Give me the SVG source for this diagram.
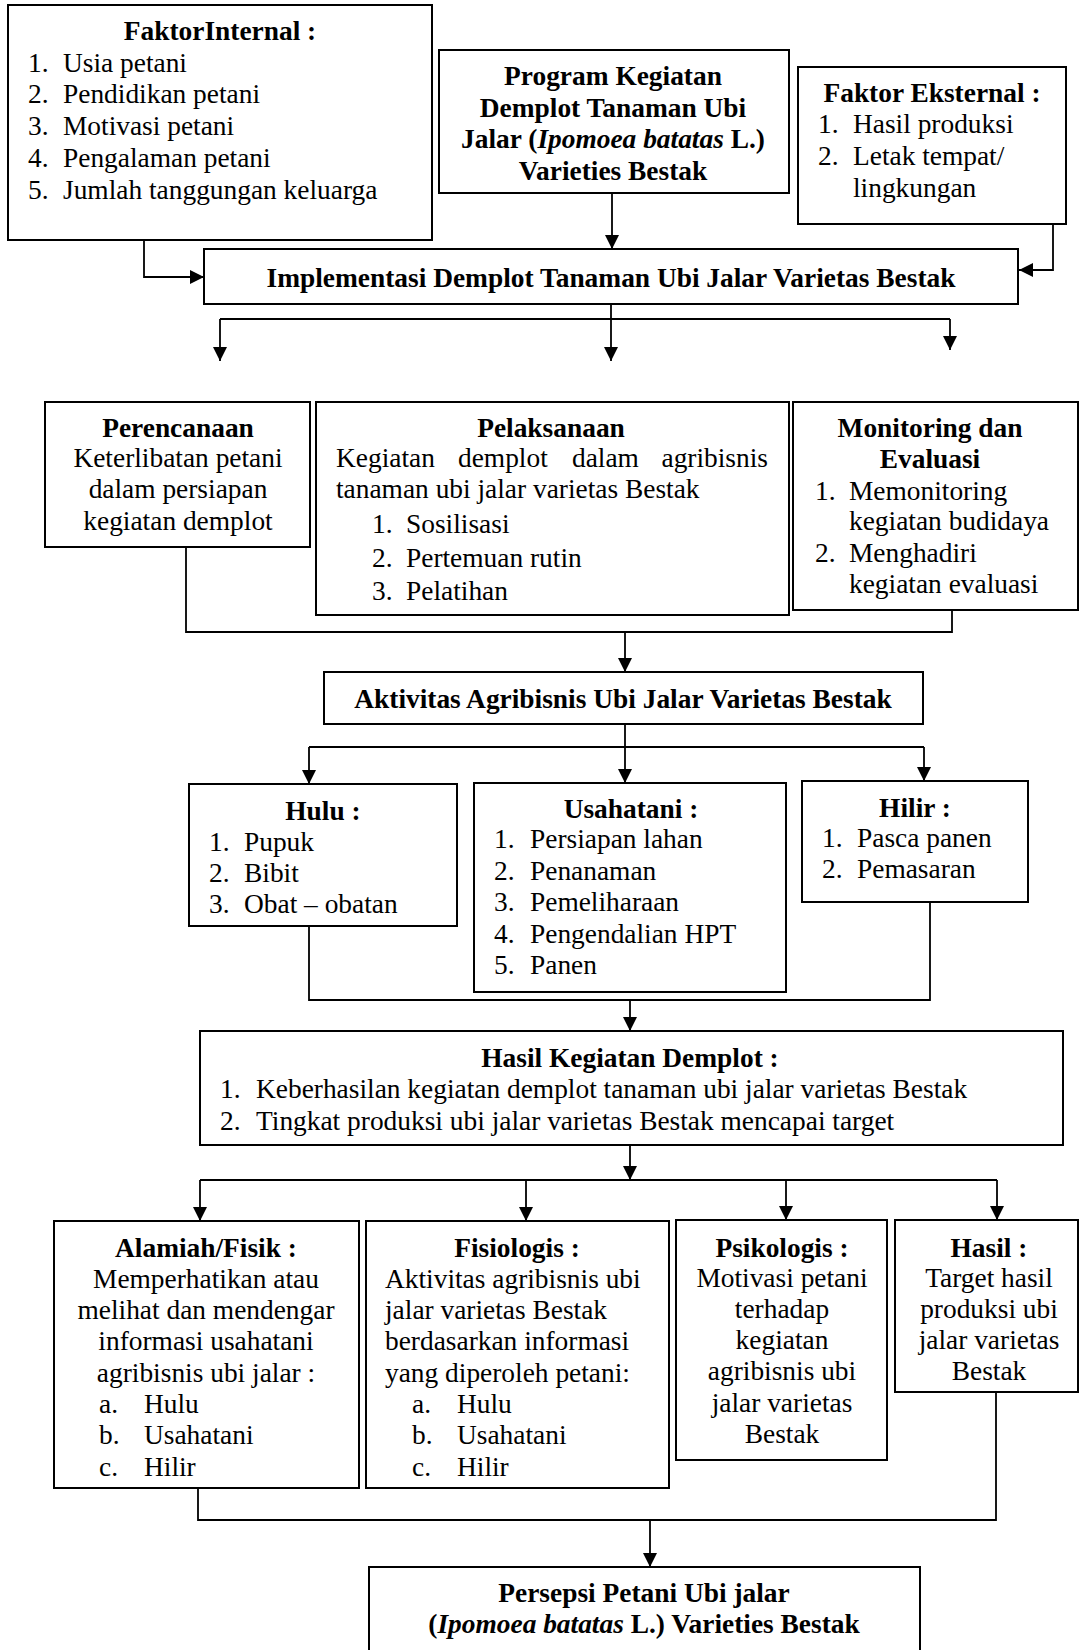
<svg xmlns="http://www.w3.org/2000/svg" width="1079" height="1650" viewBox="0 0 1079 1650">
<style>
text{font-family:"Liberation Serif","Times New Roman",serif;font-size:27.4px;fill:#000}
.b{font-weight:bold}
.c{text-anchor:middle}
.e{text-anchor:end}
.i{font-style:italic}
rect{fill:#fff;stroke:#000;stroke-width:2}
.ln{fill:none;stroke:#000;stroke-width:1.8}
</style>
<defs>
<marker id="ah" markerUnits="userSpaceOnUse" markerWidth="14" markerHeight="14" viewBox="0 0 14 14" refX="14" refY="7" orient="auto">
<path d="M0,0 L14,7 L0,14 z" fill="#000"/>
</marker>
</defs>
<rect x="0" y="0" width="1079" height="1650" style="stroke:none;fill:#fff"/>

<g id="connectors">
<path class="ln" d="M144,240 V277 H204" marker-end="url(#ah)"/>
<path class="ln" d="M612,193 V249" marker-end="url(#ah)"/>
<path class="ln" d="M1053,224 V270 H1019" marker-end="url(#ah)"/>
<path class="ln" d="M611,304 V361" marker-end="url(#ah)"/>
<path class="ln" d="M220,319 H950"/>
<path class="ln" d="M220,319 V361" marker-end="url(#ah)"/>
<path class="ln" d="M950,319 V350" marker-end="url(#ah)"/>
<path class="ln" d="M186,547 V632 H952 V610"/>
<path class="ln" d="M625,632 V672" marker-end="url(#ah)"/>
<path class="ln" d="M625,724 V783" marker-end="url(#ah)"/>
<path class="ln" d="M309,747 H924"/>
<path class="ln" d="M309,747 V784" marker-end="url(#ah)"/>
<path class="ln" d="M924,747 V781" marker-end="url(#ah)"/>
<path class="ln" d="M309,926 V1000 H930 V902"/>
<path class="ln" d="M630,1000 V1031" marker-end="url(#ah)"/>
<path class="ln" d="M630,1145 V1180" marker-end="url(#ah)"/>
<path class="ln" d="M200,1180 H997"/>
<path class="ln" d="M200,1180 V1221" marker-end="url(#ah)"/>
<path class="ln" d="M526,1180 V1221" marker-end="url(#ah)"/>
<path class="ln" d="M786,1180 V1220" marker-end="url(#ah)"/>
<path class="ln" d="M997,1180 V1220" marker-end="url(#ah)"/>
<path class="ln" d="M198,1488 V1520 H996 V1392"/>
<path class="ln" d="M650,1520 V1567" marker-end="url(#ah)"/>
</g>

<g id="faktor-internal">
<rect x="8" y="5" width="424" height="235"/>
<text class="b c" x="220" y="40">FaktorInternal :</text>
<text x="28" y="72">1.</text><text x="63" y="72">Usia petani</text>
<text x="28" y="103">2.</text><text x="63" y="103">Pendidikan petani</text>
<text x="28" y="135">3.</text><text x="63" y="135">Motivasi petani</text>
<text x="28" y="167">4.</text><text x="63" y="167">Pengalaman petani</text>
<text x="28" y="199">5.</text><text x="63" y="199">Jumlah tanggungan keluarga</text>
</g>

<g id="program">
<rect x="439" y="50" width="350" height="143"/>
<text class="b c" x="613" y="85">Program Kegiatan</text>
<text class="b c" x="613" y="117">Demplot Tanaman Ubi</text>
<text class="b c" x="613" y="148">Jalar (<tspan class="i">Ipomoea batatas</tspan> L.)</text>
<text class="b c" x="613" y="180">Varieties Bestak</text>
</g>

<g id="faktor-eksternal">
<rect x="798" y="67" width="268" height="157"/>
<text class="b c" x="932" y="102">Faktor Eksternal :</text>
<text x="818" y="133">1.</text><text x="853" y="133">Hasil produksi</text>
<text x="818" y="165">2.</text><text x="853" y="165">Letak tempat/</text>
<text x="853" y="197">lingkungan</text>
</g>

<g id="implementasi">
<rect x="204" y="249" width="814" height="55"/>
<text class="b c" x="611" y="287">Implementasi Demplot Tanaman Ubi Jalar Varietas Bestak</text>
</g>

<g id="perencanaan">
<rect x="45" y="402" width="265" height="145"/>
<text class="b c" x="178" y="437">Perencanaan</text>
<text class="c" x="178" y="467">Keterlibatan petani</text>
<text class="c" x="178" y="498">dalam persiapan</text>
<text class="c" x="178" y="530">kegiatan demplot</text>
</g>

<g id="pelaksanaan">
<rect x="316" y="402" width="473" height="213"/>
<text class="b c" x="551" y="437">Pelaksanaan</text>
<text x="336" y="467">Kegiatan</text>
<text x="458" y="467">demplot</text>
<text x="572" y="467">dalam</text>
<text class="e" x="768" y="467">agribisnis</text>
<text x="336" y="498">tanaman ubi jalar varietas Bestak</text>
<text x="372" y="533">1.</text><text x="406" y="533">Sosilisasi</text>
<text x="372" y="567">2.</text><text x="406" y="567">Pertemuan rutin</text>
<text x="372" y="600">3.</text><text x="406" y="600">Pelatihan</text>
</g>

<g id="monitoring">
<rect x="793" y="402" width="285" height="208"/>
<text class="b c" x="930" y="437">Monitoring dan</text>
<text class="b c" x="930" y="468">Evaluasi</text>
<text x="815" y="500">1.</text><text x="849" y="500">Memonitoring</text>
<text x="849" y="530">kegiatan budidaya</text>
<text x="815" y="562">2.</text><text x="849" y="562">Menghadiri</text>
<text x="849" y="593">kegiatan evaluasi</text>
</g>

<g id="aktivitas">
<rect x="324" y="672" width="599" height="52"/>
<text class="b c" x="623" y="708">Aktivitas Agribisnis Ubi Jalar Varietas Bestak</text>
</g>

<g id="hulu">
<rect x="189" y="784" width="268" height="142"/>
<text class="b c" x="323" y="820">Hulu :</text>
<text x="209" y="851">1.</text><text x="244" y="851">Pupuk</text>
<text x="209" y="882">2.</text><text x="244" y="882">Bibit</text>
<text x="209" y="913">3.</text><text x="244" y="913">Obat – obatan</text>
</g>

<g id="usahatani">
<rect x="474" y="783" width="312" height="209"/>
<text class="b c" x="631" y="818">Usahatani :</text>
<text x="494" y="848">1.</text><text x="530" y="848">Persiapan lahan</text>
<text x="494" y="880">2.</text><text x="530" y="880">Penanaman</text>
<text x="494" y="911">3.</text><text x="530" y="911">Pemeliharaan</text>
<text x="494" y="943">4.</text><text x="530" y="943">Pengendalian HPT</text>
<text x="494" y="974">5.</text><text x="530" y="974">Panen</text>
</g>

<g id="hilir">
<rect x="802" y="781" width="226" height="121"/>
<text class="b c" x="915" y="817">Hilir :</text>
<text x="822" y="847">1.</text><text x="857" y="847">Pasca panen</text>
<text x="822" y="878">2.</text><text x="857" y="878">Pemasaran</text>
</g>

<g id="hasil-kegiatan">
<rect x="200" y="1031" width="863" height="114"/>
<text class="b c" x="630" y="1067">Hasil Kegiatan Demplot :</text>
<text x="220" y="1098">1.</text><text x="256" y="1098">Keberhasilan kegiatan demplot tanaman ubi jalar varietas Bestak</text>
<text x="220" y="1130">2.</text><text x="256" y="1130">Tingkat produksi ubi jalar varietas Bestak mencapai target</text>
</g>

<g id="alamiah">
<rect x="54" y="1221" width="305" height="267"/>
<text class="b c" x="206" y="1257">Alamiah/Fisik :</text>
<text class="c" x="206" y="1288">Memperhatikan atau</text>
<text class="c" x="206" y="1319">melihat dan mendengar</text>
<text class="c" x="206" y="1350">informasi usahatani</text>
<text class="c" x="206" y="1382">agribisnis ubi jalar :</text>
<text x="99" y="1413">a.</text><text x="144" y="1413">Hulu</text>
<text x="99" y="1444">b.</text><text x="144" y="1444">Usahatani</text>
<text x="99" y="1476">c.</text><text x="144" y="1476">Hilir</text>
</g>

<g id="fisiologis">
<rect x="366" y="1221" width="303" height="267"/>
<text class="b c" x="517" y="1257">Fisiologis :</text>
<text x="385" y="1288">Aktivitas agribisnis ubi</text>
<text x="385" y="1319">jalar varietas Bestak</text>
<text x="385" y="1350">berdasarkan informasi</text>
<text x="385" y="1382">yang diperoleh petani:</text>
<text x="412" y="1413">a.</text><text x="457" y="1413">Hulu</text>
<text x="412" y="1444">b.</text><text x="457" y="1444">Usahatani</text>
<text x="412" y="1476">c.</text><text x="457" y="1476">Hilir</text>
</g>

<g id="psikologis">
<rect x="676" y="1220" width="211" height="240"/>
<text class="b c" x="782" y="1257">Psikologis :</text>
<text class="c" x="782" y="1287">Motivasi petani</text>
<text class="c" x="782" y="1318">terhadap</text>
<text class="c" x="782" y="1349">kegiatan</text>
<text class="c" x="782" y="1380">agribisnis ubi</text>
<text class="c" x="782" y="1412">jalar varietas</text>
<text class="c" x="782" y="1443">Bestak</text>
</g>

<g id="hasil">
<rect x="895" y="1220" width="183" height="172"/>
<text class="b c" x="989" y="1257">Hasil :</text>
<text class="c" x="989" y="1287">Target hasil</text>
<text class="c" x="989" y="1318">produksi ubi</text>
<text class="c" x="989" y="1349">jalar varietas</text>
<text class="c" x="989" y="1380">Bestak</text>
</g>

<g id="persepsi">
<rect x="369" y="1567" width="551" height="100"/>
<text class="b c" x="644" y="1602">Persepsi Petani Ubi jalar</text>
<text class="b c" x="644" y="1633">(<tspan class="i">Ipomoea batatas</tspan> L.) Varieties Bestak</text>
</g>
</svg>
